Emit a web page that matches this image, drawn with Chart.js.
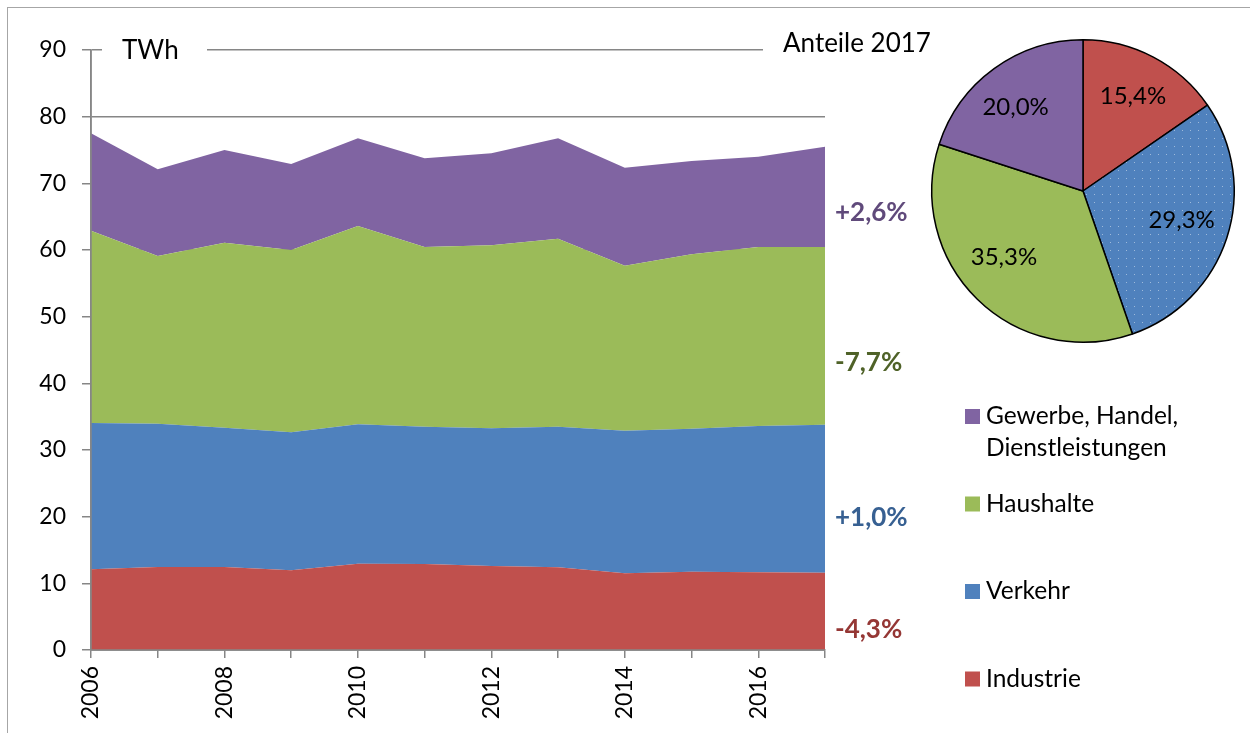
<!DOCTYPE html>
<html>
<head>
<meta charset="utf-8">
<script src="https://cdn.jsdelivr.net/npm/chart.js@4.4.1/dist/chart.umd.min.js"></script>
<style>
  html, body { margin: 0; padding: 0; background: #fff; overflow: hidden; }
  #wrap { position: relative; width: 1250px; height: 733px; overflow: hidden; }
  #frame { position: absolute; left: 7px; top: 7px; width: 1300px; height: 800px;
           border-left: 1.5px solid #a6a6a6; border-top: 1.5px solid #a6a6a6; }
  #area { position: absolute; left: 0; top: 0; }
  #pie { position: absolute; left: 923px; top: 31px; }
</style>
</head>
<body>
<div id="wrap">
  <div id="frame"></div>
  <canvas id="area" width="1250" height="733"></canvas>
  <canvas id="pie" width="320" height="320"></canvas>
</div>
<script>
// Daten (TWh), von unten nach oben gestapelt
const years = ['2006', '2007', '2008', '2009', '2010', '2011', '2012', '2013', '2014', '2015', '2016', '2017'];
const industrie = [12.1, 12.45, 12.45, 11.95, 12.95, 12.9, 12.6, 12.4, 11.5, 11.75, 11.65, 11.6];
const verkehr   = [21.95, 21.5, 20.9, 20.7, 20.9, 20.6, 20.65, 21.1, 21.4, 21.45, 21.95, 22.2];
const haushalte = [28.85, 25.15, 27.75, 27.35, 29.75, 26.95, 27.45, 28.2, 24.75, 26.15, 26.85, 26.65];
const gewerbe   = [14.6, 13.0, 13.9, 12.9, 13.15, 13.3, 13.8, 15.05, 14.7, 14.0, 13.55, 15.05];
const seriesNames = ['Industrie', 'Verkehr', 'Haushalte', 'Gewerbe, Handel, Dienstleistungen'];
const changes = ['-4,3%', '+1,0%', '-7,7%', '+2,6%'];
const pieShares = [15.4, 29.3, 35.3, 20.0];
const yTicks = { min: 0, max: 90, step: 10 };

const FONT = 'Lato, "Open Sans", sans-serif';
const AXIS = '#868686';
const FILL = ['#C0504D', '#4F81BD', '#9BBB59', '#8064A2'];
const DARK = ['#953735', '#376092', '#4F6228', '#604A7B'];

// Punktmuster für Verkehr im Kreis
function dotPattern(ctx) {
    const c = document.createElement('canvas');
    c.width = 8; c.height = 8;
    const g = c.getContext('2d');
    g.fillStyle = FILL[1];
    g.fillRect(0, 0, 8, 8);
    g.fillStyle = 'rgba(255,255,255,0.45)';
    g.fillRect(3, 3, 1, 1);
    return ctx.createPattern(c, 'repeat');
}

const overlay = {
    id: 'overlay',
    afterDatasetsDraw(chart) {
        // Achsenlinien über den Flächen
        const { ctx, chartArea: a } = chart;
        ctx.save();
        ctx.strokeStyle = AXIS;
        ctx.lineWidth = 1.5;
        ctx.beginPath();
        ctx.moveTo(a.left, a.top);
        ctx.lineTo(a.left, a.bottom);
        ctx.lineTo(a.right, a.bottom);
        ctx.stroke();
        ctx.restore();
    },
    afterDraw(chart, args, opts) {
        const { ctx, chartArea: a } = chart;
        const y = chart.scales.y;
        ctx.save();
        ctx.textBaseline = 'middle';

        // Einheit und Kreis-Titel, mit weißem Hintergrund über der 90er-Linie
        ctx.fillStyle = '#fff';
        ctx.fillRect(102, a.top - 15, 105, 30);
        ctx.fillRect(763, a.top - 20, 190, 32);
        ctx.fillStyle = '#000';
        ctx.font = '26px ' + FONT;
        ctx.fillText('TWh', 122, a.top + 1);
        ctx.fillText('Anteile 2017', 783, a.top - 6);

        // Veränderungen rechts neben den Flächen
        ctx.font = 'bold 26px ' + FONT;
        changes.forEach((t, i) => {
            ctx.fillStyle = DARK[i];
            ctx.fillText(t, a.right + 10, y.getPixelForValue(opts.changeAt[i]));
        });

        // Legende
        ctx.font = '24.5px ' + FONT;
        for (let i = 3; i >= 0; i--) {
            const k = 3 - i;
            const cy = opts.legendTop + k * opts.legendStep;
            ctx.fillStyle = FILL[i];
            ctx.fillRect(opts.legendX, cy - 7.5, 15, 15);
            ctx.fillStyle = '#000';
            seriesNames[i].replace('Handel, ', 'Handel,\n').split('\n').forEach((line, j) => {
                ctx.fillText(line, opts.legendX + 21, cy + j * 32);
            });
        }
        ctx.restore();
    }
};

const pieLabels = {
    id: 'pieLabels',
    afterDatasetsDraw(chart, args, opts) {
        const { ctx } = chart;
        ctx.save();
        ctx.font = '24px ' + FONT;
        ctx.fillStyle = '#000';
        ctx.textAlign = 'center';
        ctx.textBaseline = 'middle';
        chart.getDatasetMeta(0).data.forEach((arc, i) => {
            const p = arc.getProps(['x', 'y', 'startAngle', 'endAngle', 'outerRadius']);
            const mid = (p.startAngle + p.endAngle) / 2 + opts.turn[i];
            const r = p.outerRadius * opts.dist[i];
            const txt = pieShares[i].toFixed(1).replace('.', ',') + '%';
            ctx.fillText(txt, p.x + Math.cos(mid) * r, p.y + Math.sin(mid) * r);
        });
        ctx.restore();
    }
};

function draw() {
    const series = [industrie, verkehr, haushalte, gewerbe];
    new Chart(document.getElementById('area'), {
        type: 'line',
        data: {
            labels: years,
            datasets: series.map((d, i) => ({
                label: seriesNames[i],
                data: d,
                backgroundColor: FILL[i],
                borderWidth: 0,
                pointRadius: 0,
                tension: 0,
                fill: i === 0 ? 'origin' : '-1'
            }))
        },
        options: {
            responsive: false,
            animation: false,
            layout: { padding: { left: 0, right: 425, top: 50, bottom: 0 } },
            plugins: {
                legend: { display: false },
                tooltip: { enabled: false },
                overlay: { changeAt: [3.0, 19.8, 43.05, 65.55], legendX: 965, legendTop: 416.5, legendStep: 87.5 }
            },
            scales: {
                x: {
                    offset: false,
                    grid: { drawOnChartArea: false, color: AXIS, lineWidth: 1.5, tickLength: 8 },
                    border: { color: AXIS, width: 1.5 },
                    ticks: {
                        autoSkip: false, minRotation: 90, maxRotation: 90, padding: 8,
                        color: '#000', font: { family: FONT, size: 23 },
                        callback: (v, i) => (i % 2 === 0 ? years[i] : '')
                    },
                    afterFit: s => { s.height = 83; }
                },
                y: {
                    stacked: true,
                    min: yTicks.min, max: yTicks.max,
                    grid: { color: AXIS, lineWidth: 1.5, tickLength: 9 },
                    border: { color: AXIS, width: 1.5 },
                    ticks: { stepSize: yTicks.step, padding: 16, color: '#000', font: { family: FONT, size: 23 } },
                    afterFit: s => { s.width = 91; }
                }
            }
        },
        plugins: [overlay]
    });

    const pc = document.getElementById('pie');
    new Chart(pc, {
        type: 'pie',
        data: {
            labels: seriesNames,
            datasets: [{
                data: pieShares,
                backgroundColor: [FILL[0], dotPattern(pc.getContext('2d')), FILL[2], FILL[3]],
                borderColor: '#000',
                borderWidth: 1.5
            }]
        },
        options: {
            responsive: false,
            animation: false,
            layout: { padding: 8 },
            plugins: {
                legend: { display: false },
                tooltip: { enabled: false },
                pieLabels: { dist: [0.71, 0.68, 0.68, 0.71], turn: [0, -0.03, 0.1, -0.05] }
            }
        },
        plugins: [pieLabels]
    });
}

document.fonts.load('24px Lato').then(draw, draw);
</script>
</body>
</html>
